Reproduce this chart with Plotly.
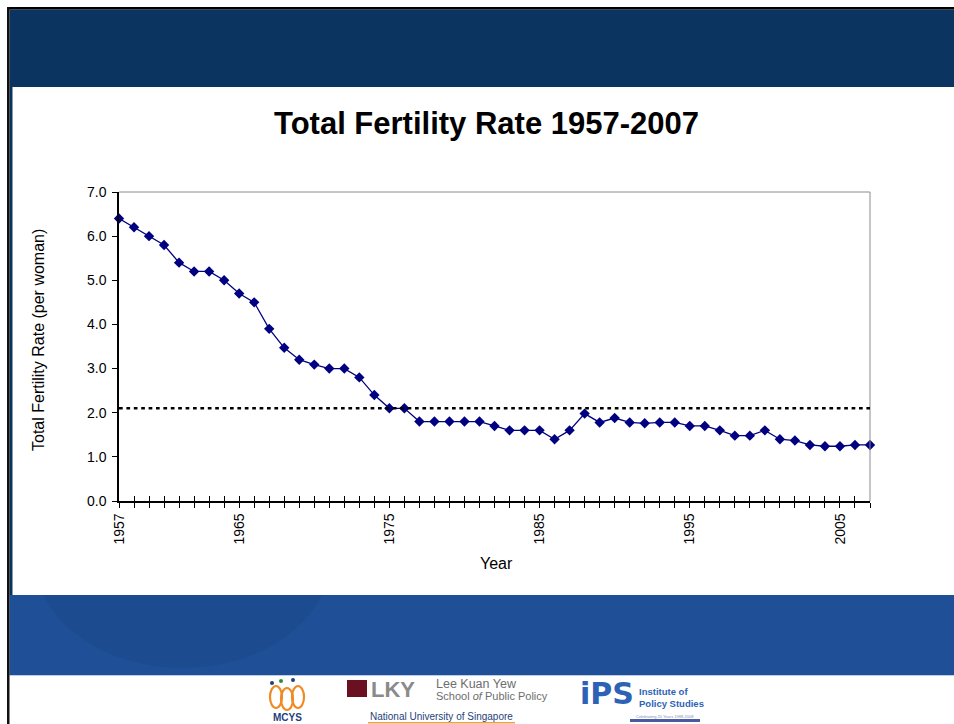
import plotly.graph_objects as go

# Total fertility rate, Singapore
years = list(range(1957, 2008))
tfr = [6.40, 6.20, 6.00, 5.80, 5.40, 5.20, 5.20, 5.00, 4.70, 4.50,
       3.90, 3.47, 3.20, 3.09, 3.00, 3.00, 2.80, 2.40, 2.10, 2.10,
       1.80, 1.80, 1.80, 1.80, 1.80, 1.70, 1.60, 1.60, 1.60, 1.40,
       1.60, 1.98, 1.78, 1.88, 1.78, 1.76, 1.78, 1.78, 1.70, 1.70,
       1.60, 1.48, 1.48, 1.60, 1.40, 1.37, 1.27, 1.24, 1.24, 1.27, 1.27]
replacement_level = 2.1
labelled_years = [1957, 1965, 1975, 1985, 1995, 2005]
y_ticks = [0, 1, 2, 3, 4, 5, 6, 7]

W, H = 954, 724
L, R, T, B = 119, 870, 192, 501  # plot area in page pixels


def px(x):
    return (x - L) / (R - L)


def py(y):
    return (B - y) / (B - T)


NAVY = "#0b3560"
BAND = "#1f5097"
BAND_DARK = "#1d4b8f"
FONT = "Liberation Sans, Arial, sans-serif"

fig = go.Figure()

fig.add_trace(go.Scatter(
    x=years, y=tfr, mode="lines+markers",
    line=dict(color="#000080", width=1.3),
    marker=dict(symbol="diamond", size=8, color="#000080"),
    cliponaxis=False, showlegend=False, hoverinfo="x+y",
))
# carrier for the inner tick marks of the year axis
fig.add_trace(go.Scatter(
    x=[years[0]], y=[0], xaxis="x2", mode="markers",
    marker=dict(opacity=0), showlegend=False, hoverinfo="skip",
))

shapes = []


def rect(x0, y0, x1, y1, color, **kw):
    shapes.append(dict(type="rect", xref="paper", yref="paper",
                       x0=px(x0), x1=px(x1), y0=py(y1), y1=py(y0),
                       fillcolor=color, line=dict(width=0), layer="below", **kw))


# slide frame
rect(9.5, 9.5, W, 87, NAVY)
rect(9.5, 87, 12.7, 595, NAVY)
rect(9.5, 595, W, 675, BAND)
shapes.append(dict(type="circle", xref="paper", yref="paper",
                   x0=px(35), x1=px(330), y0=py(668), y1=py(450),
                   fillcolor=BAND_DARK, line=dict(width=0), layer="below"))
rect(12.7, 87, W, 595, "white")
rect(9.5, 675, W, H, "white")
rect(9.5, 675, W, 676, "#b9cde6")
rect(7, 7, W, 9.5, "black")
rect(7, 7, 9.5, H, "#111111")

# plot area border (top and right)
shapes.append(dict(type="line", xref="paper", yref="paper", x0=0, x1=1, y0=1, y1=1,
                   line=dict(color="#8c8c8c", width=1)))
shapes.append(dict(type="line", xref="paper", yref="paper", x0=1, x1=1, y0=0, y1=1,
                   line=dict(color="#8c8c8c", width=1)))
# replacement level
shapes.append(dict(type="line", xref="x", yref="y", x0=years[0], x1=years[-1],
                   y0=replacement_level, y1=replacement_level,
                   line=dict(color="black", width=2.5, dash="3.7px,3.7px")))

# MCYS mark
for cx, cy in [(276, 697), (287, 699), (298, 697)]:
    shapes.append(dict(type="circle", xref="paper", yref="paper",
                       x0=px(cx - 6), x1=px(cx + 6), y0=py(cy + 11), y1=py(cy - 11),
                       line=dict(color="#f08a24", width=2.2), layer="above"))
for cx, cy, c in [(272, 683, "#1f3f7a"), (281, 681, "#2e8b3d"), (293, 680, "#1f3f7a")]:
    shapes.append(dict(type="circle", xref="paper", yref="paper",
                       x0=px(cx - 2), x1=px(cx + 2), y0=py(cy + 2), y1=py(cy - 2),
                       fillcolor=c, line=dict(width=0), layer="above"))
# LKY block
rect(347, 680, 367, 697, "#6b1020")
# NUS underline
rect(368, 722, 515, 723.5, "#f0a040")
# iPS mark
rect(630, 719, 700, 722, "#4a5aa0")

annotations = []


def text(s, x, y, size, color="black", bold=False, angle=0, anchor="center",
         family=FONT, yanchor="middle"):
    annotations.append(dict(
        text=f"<b>{s}</b>" if bold else s, xref="paper", yref="paper",
        x=px(x), y=py(y), xanchor=anchor, yanchor=yanchor, showarrow=False,
        textangle=angle, font=dict(size=size, color=color, family=family)))


text("Total Fertility Rate 1957-2007", 486, 124, 31, bold=True)
text("Year", 496, 563, 16)
text("Total Fertility Rate (per woman)", 38, 340, 16, angle=-90)

text("MCYS", 287, 717, 10, color="#1f3f7a", bold=True)
text("LKY", 369, 689, 22, color="#8a8a8a", bold=True, anchor="left")
text("Lee Kuan Yew", 434, 684, 12.5, color="#6e6e6e", anchor="left")
text("School <i>of</i> Public Policy", 434, 696, 11, color="#6e6e6e", anchor="left")
text("National University of Singapore", 441, 716, 10, color="#1f3f7a")
text("iPS", 578, 693, 30, color="#2d63b5", bold=True, anchor="left",
     family="DejaVu Sans, sans-serif")
text("Institute of", 637, 691, 9.5, color="#2d63b5", bold=True, anchor="left")
text("Policy Studies", 637, 703, 9.5, color="#2d63b5", bold=True, anchor="left")
text("Celebrating 20 Years 1988-2008", 665, 716, 4, color="#7f8fb5")

tick_text = [str(y) if y in labelled_years else "" for y in years]

fig.update_layout(
    width=W, height=H,
    margin=dict(l=L, r=W - R, t=T, b=H - B, pad=0),
    paper_bgcolor="white", plot_bgcolor="white",
    font=dict(family=FONT, size=14, color="black"),
    shapes=shapes, annotations=annotations,
    xaxis=dict(range=[years[0], years[-1]], tickmode="array", tickvals=years,
               ticktext=tick_text, tickangle=-90, ticks="outside", ticklen=5,
               tickcolor="black", tickwidth=1, showline=True, linecolor="black",
               linewidth=1.5, showgrid=False, zeroline=False, automargin=False,
               tickfont=dict(size=14)),
    xaxis2=dict(range=[years[0], years[-1]], overlaying="x", anchor="y", side="bottom",
                tickmode="array", tickvals=years, ticks="inside", ticklen=5,
                tickcolor="black", tickwidth=1, showticklabels=False, showline=False,
                showgrid=False, zeroline=False, automargin=False),
    yaxis=dict(range=[0, 7], tickmode="array", tickvals=y_ticks,
               ticktext=[f"{v:.1f}" for v in y_ticks], ticks="outside", ticklen=5,
               tickcolor="black", showline=True, linecolor="black", linewidth=1.5,
               showgrid=False, zeroline=False, automargin=False,
               ticklabelstandoff=3, tickfont=dict(size=14)),
)

fig.write_html("out.html")
